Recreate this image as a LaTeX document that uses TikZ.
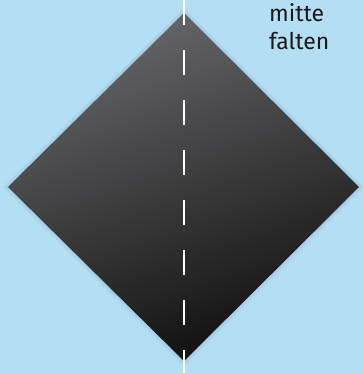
\documentclass[tikz,border=0pt]{standalone}
\usepackage{fontspec}
\setmainfont{Fira Sans}
\definecolor{bgblue}{HTML}{B4DEF3}
\definecolor{dtop}{HTML}{67676A}
\definecolor{dbot}{HTML}{0F0F0F}
\definecolor{txt}{HTML}{1A1A1A}
\definecolor{shadowc}{HTML}{5A7A8A}
\tikzset{
  foldline/.style={draw=white, line width=1.5pt},
  label/.style={font=\fontsize{23}{28}\selectfont, text=txt, align=left, inner sep=0pt, anchor=north west}
}
\begin{document}
\begin{tikzpicture}[x=1pt,y=-1pt]
\fill[bgblue] (0,0) rectangle (363,373);
\useasboundingbox (0,0) rectangle (363,373);
% soft shadow
\foreach \w/\o in {8/0.05,5/0.06,2.5/0.08}{
  \draw[line width=\w pt, draw=shadowc, opacity=\o, line join=miter]
    (184,13) -- (359,187) -- (184,361) -- (8,187) -- cycle;
}
\shade[top color=dtop, bottom color=dbot, shading angle=20]
  (184,13) -- (359,187) -- (184,361) -- (8,187) -- cycle;
\coordinate (ftop) at (184,0);
\coordinate (fbot) at (184,373);
\draw[foldline, dash pattern=on 25pt off 25pt] (ftop) -- (fbot);
\node[label] (txt) at (269,3) {mitte\\falten};
\end{tikzpicture}
\end{document}
